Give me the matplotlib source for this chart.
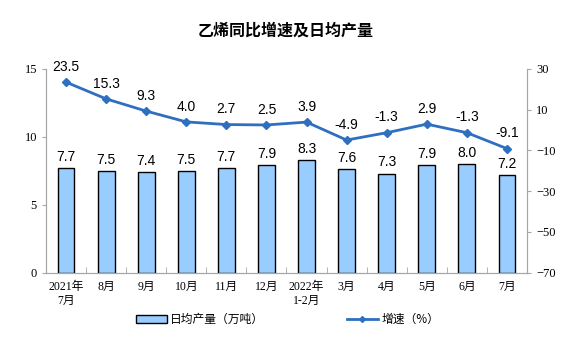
"""Ethylene daily output and YoY growth chart."""

import matplotlib
matplotlib.use("Agg")
import matplotlib.pyplot as plt
from matplotlib.lines import Line2D
from matplotlib.patches import Patch

months = ["2021年\n7月", "8月", "9月", "10月", "11月", "12月", "2022年\n1-2月",
          "3月", "4月", "5月", "6月", "7月"]
daily_output = [7.7, 7.5, 7.4, 7.5, 7.7, 7.9, 8.3, 7.6, 7.3, 7.9, 8.0, 7.2]
growth = [23.5, 15.3, 9.3, 4.0, 2.7, 2.5, 3.9, -4.9, -1.3, 2.9, -1.3, -9.1]
left_ticks = [0, 5, 10, 15]
right_ticks = [-70, -50, -30, -10, 10, 30]

CJK = ["Noto Sans CJK SC", "DejaVu Sans"]
SERIF = ["Liberation Serif", "Noto Sans CJK SC"]
BAR_COLOR = "#99CCFF"
LINE_COLOR = "#2E6FC0"
AXIS_GRAY = "#A6A6A6"

fig = plt.figure(figsize=(5.75, 3.57), dpi=100)
ax = fig.add_axes([0.08, 0.236, 0.8365, 0.571])
ax2 = ax.twinx()

x = list(range(len(months)))
ax.bar(x, daily_output, width=0.42, color=BAR_COLOR, edgecolor="black", linewidth=1.0, zorder=2)
for xi, v in zip(x, daily_output):
    ax.annotate(f"{v:.1f}", (xi, v), xytext=(0, 3), textcoords="offset points",
                ha="center", va="bottom", fontsize=10, family="Liberation Sans")

ax2.plot(x, growth, color=LINE_COLOR, linewidth=2, marker="D", markersize=4, zorder=3)
for xi, v in zip(x, growth):
    ax2.annotate(f"{v:.1f}", (xi, v), xytext=(0, 6), textcoords="offset points",
                 ha="center", va="bottom", fontsize=10, family="Liberation Sans")

ax.set_xlim(-0.5, len(months) - 0.5)
ax.set_ylim(0, 15)
ax2.set_ylim(-70, 30)
ax.set_yticks(left_ticks)
ax2.set_yticks(right_ticks)

ax.set_xticks(x)
ax.set_xticklabels(months, fontsize=8.5, family=SERIF, linespacing=1.25)
ax.set_xticks([i + 0.5 for i in range(-1, len(months))], minor=True)
ax.tick_params(axis="x", which="major", length=0, pad=6)
ax.tick_params(axis="x", which="minor", length=4, direction="in", color=AXIS_GRAY)
ax.tick_params(axis="y", length=3, color=AXIS_GRAY, labelsize=9)
ax2.tick_params(axis="y", length=3, color=AXIS_GRAY, labelsize=9)
for lab in ax.get_yticklabels() + ax2.get_yticklabels():
    lab.set_family(SERIF)

for a in (ax, ax2):
    a.spines["top"].set_visible(False)
    for side in ("left", "right", "bottom"):
        a.spines[side].set_color(AXIS_GRAY)

fig.text(0.497, 0.915, "乙烯同比增速及日均产量", ha="center", va="center",
         fontsize=11.5, family=CJK, fontweight="bold")

handles = [
    Patch(facecolor=BAR_COLOR, edgecolor="black", linewidth=1.0),
    Line2D([0], [0], color=LINE_COLOR, linewidth=2, marker="D", markersize=3),
]
fig.legend(handles, ["日均产量（万吨）", "增速（%）"], loc="center", ncol=2,
           bbox_to_anchor=(0.5, 0.105), frameon=False, columnspacing=7,
           handlelength=2.6, handleheight=0.6, handletextpad=0.3,
           prop={"family": CJK, "size": 8.5})

fig.savefig("out.png", dpi=100)
